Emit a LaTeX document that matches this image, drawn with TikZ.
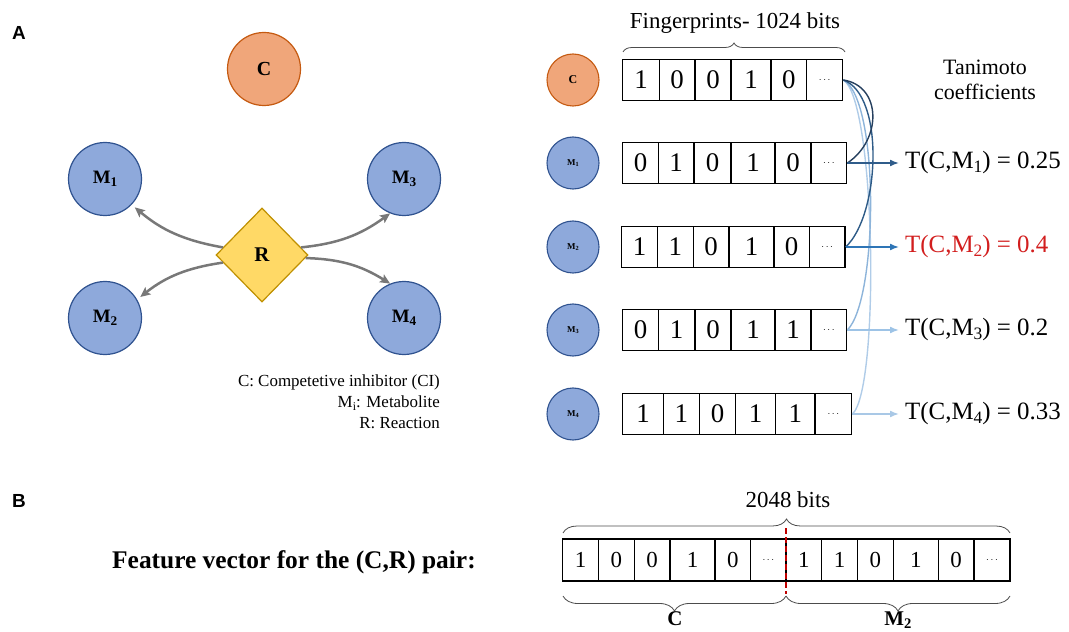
\documentclass[tikz,border=0pt]{standalone}
\usepackage{fontspec}
\usepackage{graphicx}
\setmainfont{Liberation Serif}
\setsansfont{Liberation Sans}
\usetikzlibrary{shapes.geometric,arrows.meta,decorations.pathreplacing,calc}
\newcommand\lowsub[1]{\raisebox{-0.35ex}{\scalebox{0.7}{#1}}}
\newcommand\fsz[1]{\fontsize{#1}{#1}\selectfont}
\newcommand\ddd{{\fsz{10}$\cdots$}}
\definecolor{blueFill}{RGB}{142,169,219}
\definecolor{blueLine}{RGB}{47,82,143}
\definecolor{orFill}{RGB}{240,166,122}
\definecolor{orLine}{RGB}{197,90,17}
\definecolor{yeFill}{RGB}{255,217,102}
\definecolor{yeLine}{RGB}{191,144,0}
\definecolor{garr}{RGB}{120,120,120}
\definecolor{cvA}{RGB}{37,63,94}
\definecolor{arA}{RGB}{47,92,138}
\definecolor{cvB}{RGB}{46,91,135}
\definecolor{arB}{RGB}{46,117,182}
\definecolor{cvC}{RGB}{141,180,218}
\definecolor{arC}{RGB}{157,195,230}
\definecolor{cvD}{RGB}{176,204,232}
\definecolor{arD}{RGB}{169,200,230}
\definecolor{redT}{RGB}{210,30,30}
\definecolor{redD}{RGB}{192,0,0}
\tikzset{
  bigblue/.style={circle, draw=blueLine, fill=blueFill, line width=1.2bp, minimum size=73bp, inner sep=0pt, font=\fsz{19}\bfseries},
  bigorange/.style={circle, draw=orLine, fill=orFill, line width=1.2bp, minimum size=73bp, inner sep=0pt, font=\fsz{20}\bfseries},
  smallblue/.style={circle, draw=blueLine, fill=blueFill, line width=1.1bp, minimum size=52bp, inner sep=0pt, font=\fsz{9}\bfseries},
  smallorange/.style={circle, draw=orLine, fill=orFill, line width=1.1bp, minimum size=52bp, inner sep=0pt, font=\fsz{12}\bfseries},
  reaction/.style={diamond, aspect=1, draw=yeLine, fill=yeFill, line width=1.2bp, minimum width=92bp, minimum height=94bp, inner sep=0pt, font=\fsz{21}\bfseries},
  garrow/.style={draw=garr, line width=2.5bp, -{Stealth[length=10bp,width=9bp,inset=2bp]}},
  cell/.style={draw, line width=1.3bp, minimum height=41bp, inner sep=0pt, font=\fsz{27}},
  bcell/.style={draw, line width=1.1bp, minimum height=42bp, inner sep=0pt, font=\fsz{23}},
  tlab/.style={anchor=west, inner sep=0pt, font=\fsz{25}},
  fcurve/.style={line width=1.4bp},
  farrow/.style={line width=1.6bp, shorten >=6bp, -{Latex[length=9bp,width=7bp]}},
  bracedec/.style={draw=black!70, line width=0.8bp, decorate},
  panel/.style={font=\sffamily\bfseries\fsz{19}, inner sep=0pt}
}
\begin{document}
\begin{tikzpicture}[x=1bp,y=-1bp]
\useasboundingbox (0,0) rectangle (1069,632);
% ---------- Panel A, left ----------
\node[panel] (labA) at (19,33) {A};
\node[bigorange] (C) at (264,69) {C};
\node[bigblue] (M1) at (105,179) {M\lowsub{1}};
\node[bigblue] (M3) at (404,179) {M\lowsub{3}};
\node[bigblue] (M2) at (105,318) {M\lowsub{2}};
\node[bigblue] (M4) at (404,318) {M\lowsub{4}};
\node[reaction] (R) at (262,255) {R};
\draw[garrow, shorten >=4bp] (R.169) to[bend left=15] (M1.-44);
\draw[garrow, shorten >=4bp] (R.191) to[bend right=15] (M2.30);
\draw[garrow] (R.11) to[bend right=15] (M3.248);
\draw[garrow] (R.-4) to[bend left=15] (M4.112);
\node[anchor=east, align=right, inner sep=0pt, font={\fontsize{17}{21}\selectfont}] (legend) at (440,402)
  {C: Competetive inhibitor (CI)\\M\lowsub{i}: Metabolite\\R: Reaction};
% ---------- Panel A, right ----------
\node[font=\fsz{23}, inner sep=0pt] (fpt) at (735,23) {Fingerprints- 1024 bits};
\draw[bracedec, decoration={brace, amplitude=9bp}] (623,52) -- (845,52);
\node[align=center, font={\fontsize{22}{25}\selectfont}, inner sep=0pt] (tani) at (985,80) {Tanimoto\\coefficients};

\node[smallorange] (sC) at (573,80) {C};
\node[smallblue] (s1) at (573,163) {M\lowsub{1}};
\node[smallblue] (s2) at (573,247) {M\lowsub{2}};
\node[smallblue] (s3) at (573,330) {M\lowsub{3}};
\node[smallblue] (s4) at (573,414) {M\lowsub{4}};

\foreach \a/\b/\t [count=\i] in {622.7/659.3/1, 659.3/695/0, 695/731/0, 731/771/1, 771/806.7/0, 806.7/842.7/\ddd}
  \node[cell, minimum width={(\b-\a)*1bp}] (r0c\i) at ({(\a+\b)/2},80) {\t};
\foreach \a/\b/\t [count=\i] in {622.7/658.3/0, 658.3/694/1, 694/731/0, 731/775/1, 775/811/0, 811/846.7/\ddd}
  \node[cell, minimum width={(\b-\a)*1bp}] (r1c\i) at ({(\a+\b)/2},163) {\t};
\foreach \a/\b/\t [count=\i] in {621.7/657.3/1, 657.3/693.3/1, 693.3/729/0, 729/774/1, 774/809.3/0, 809.3/845/\ddd}
  \node[cell, minimum width={(\b-\a)*1bp}] (r2c\i) at ({(\a+\b)/2},247) {\t};
\foreach \a/\b/\t [count=\i] in {622.7/658.3/0, 658.3/695/1, 695/731/0, 731/775/1, 775/811/1, 811/846.7/\ddd}
  \node[cell, minimum width={(\b-\a)*1bp}] (r3c\i) at ({(\a+\b)/2},330) {\t};
\foreach \a/\b/\t [count=\i] in {622.7/663.3/1, 663.3/699.3/1, 699.3/735.7/0, 735.7/775.7/1, 775.7/815/1, 815/851.7/\ddd}
  \node[cell, minimum width={(\b-\a)*1bp}] (r4c\i) at ({(\a+\b)/2},414) {\t};

\node[tlab] (t1) at (905,163) {T(C,M\lowsub{1}) = 0.25};
\node[tlab, text=redT] (t2) at (905,247) {T(C,M\lowsub{2}) = 0.4};
\node[tlab] (t3) at (905,330) {T(C,M\lowsub{3}) = 0.2};
\node[tlab] (t4) at (905,414) {T(C,M\lowsub{4}) = 0.33};

\draw[fcurve, draw=cvD] (r0c6.east) .. controls (876,100) and (880,390) .. (r4c6.east);
\draw[fcurve, draw=cvC] (r0c6.east) .. controls (880,100) and (878,300) .. (r3c6.east);
\draw[fcurve, draw=cvB] (r0c6.east) .. controls (885,95) and (880,215) .. (r2c6.east);
\draw[fcurve, draw=cvA] (r0c6.east) .. controls (882,86) and (882,140) .. (r1c6.east);

\draw[farrow, draw=arA, fill=arA] (r1c6.east) -- (t1.west);
\draw[farrow, draw=arB, fill=arB] (r2c6.east) -- (t2.west);
\draw[farrow, draw=arC, fill=arC] (r3c6.east) -- (t3.west);
\draw[farrow, draw=arD, fill=arD] (r4c6.east) -- (t4.west);

% ---------- Panel B ----------
\node[panel] (labB) at (19,501) {B};
\node[anchor=west, inner sep=0pt, font=\fsz{25.5}\bfseries] (feat) at (112,562) {Feature vector for the (C,R) pair:};
\foreach \a/\b/\t [count=\i] in {562.7/598.3/1, 598.3/634.3/0, 634.3/670/0, 670/715/1, 715/750.7/0, 750.7/786/\ddd,
  786/821.7/1, 821.7/857.3/1, 857.3/893.3/0, 893.3/938.3/1, 938.3/974/0, 974/1010/\ddd}
  \node[bcell, minimum width={(\b-\a)*1bp}] (b\i) at ({(\a+\b)/2},560) {\t};
\node[font=\fsz{23}, inner sep=0pt] (bits) at (788,500) {2048 bits};
\draw[bracedec, decoration={brace, amplitude=14bp}] (563,533) -- (1010,533);
\draw[bracedec, decoration={brace, amplitude=15bp}] (786,596) -- (563,596);
\draw[bracedec, decoration={brace, amplitude=15bp}] (1010,596) -- (786,596);
\coordinate (splitTop) at (786,528);
\coordinate (splitBot) at (786,594);
\draw[draw=redD, line width=1.8bp, dash pattern=on 6bp off 3bp] (splitTop) -- (splitBot);
\node[anchor=base, inner sep=0pt, font=\fsz{21}\bfseries] (bC) at (675,625) {C};
\node[anchor=base, inner sep=0pt, font=\fsz{21}\bfseries] (bM) at (898,625) {M\lowsub{2}};
\end{tikzpicture}
\end{document}
